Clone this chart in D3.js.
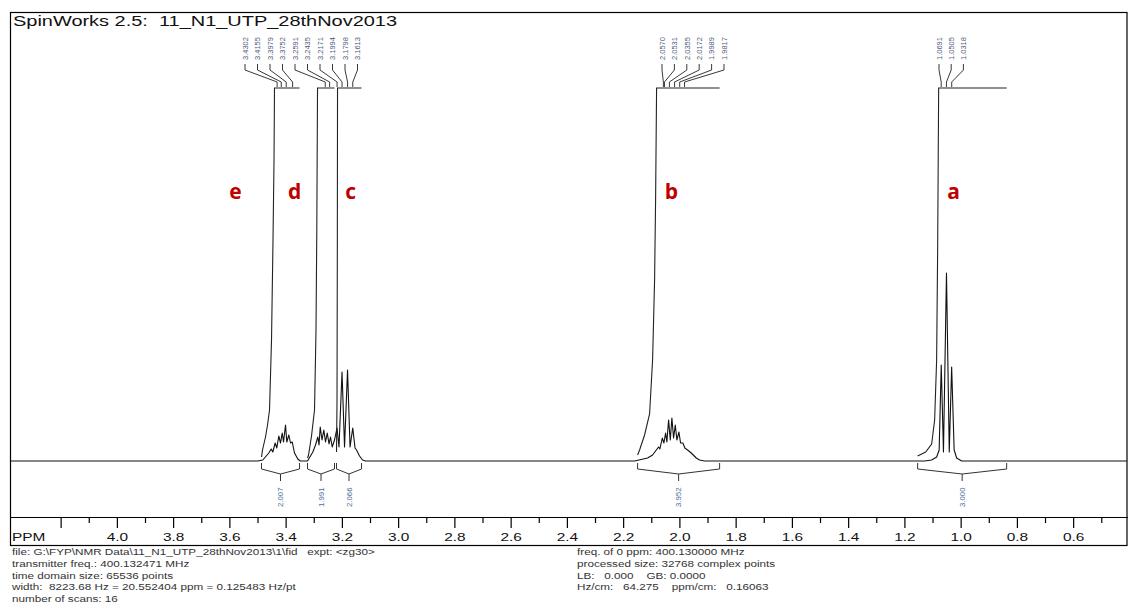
<!DOCTYPE html>
<meta charset="utf-8">
<style>
html, body { margin: 0; padding: 0; background: #fff; }
svg { display: block; font-family: Arial, "Liberation Sans", sans-serif; }
svg text { white-space: pre; }
.frame { fill: none; stroke: #000; stroke-width: 1.2; }
.spectrum { fill: none; stroke: #111; stroke-width: 1.1; stroke-linejoin: round; }
.integral { fill: none; stroke: #222; stroke-width: 1.1; }
.bracket { fill: none; stroke: #333; stroke-width: 1; }
.leader { fill: none; stroke: #222; stroke-width: 0.9; }
.peaklbl { font-size: 7.5px; fill: #4f5d7c; }
.intlbl { font-size: 7.8px; fill: #4d6a98; }
.letter { font-family: "Open Sans", sans-serif; font-weight: 700; font-size: 21px; fill: #c00000; }
.foot { font-size: 9px; fill: #333; }
</style>
<div id="container"></div>
<script src="https://cdn.jsdelivr.net/npm/d3@7"></script>
<script>

// ---- data ----
var title = "SpinWorks 2.5:  11_N1_UTP_28thNov2013";

var majorTicks = [4.2, 4.0, 3.8, 3.6, 3.4, 3.2, 3.0, 2.8, 2.6, 2.4, 2.2, 2.0, 1.8, 1.6, 1.4, 1.2, 1.0, 0.8, 0.6];
var tickLabels = ["", "4.0", "3.8", "3.6", "3.4", "3.2", "3.0", "2.8", "2.6", "2.4", "2.2", "2.0", "1.8", "1.6", "1.4", "1.2", "1.0", "0.8", "0.6"];
var minorTicks = [4.1, 3.9, 3.7, 3.5, 3.3, 3.1, 2.9, 2.7, 2.5, 2.3, 2.1, 1.9, 1.7, 1.5, 1.3, 1.1, 0.9, 0.7, 0.5];

// spectrum trace: [ppm, intensity]
var spectrum = [
  [4.38, 0], [3.50, 0],
  [3.4812, 1], [3.4598, 8], [3.4513, 12], [3.4456, 9], [3.4371, 18], [3.4314, 13], [3.4243, 25],
  [3.4182, 18], [3.4122, 28], [3.4075, 19], [3.4004, 36], [3.3958, 19], [3.3887, 26], [3.3826, 18],
  [3.3766, 19], [3.3684, 8], [3.3567, 2], [3.3482, 0],
  [3.3222, 0], [3.3033, 9], [3.2938, 16], [3.2856, 24], [3.2813, 16], [3.2770, 34], [3.2706, 21],
  [3.2642, 31], [3.2582, 19], [3.2521, 28], [3.2457, 17], [3.2404, 24], [3.2344, 14], [3.2262, 21],
  [3.2173, 33], [3.2102, 14], [3.1995, 89], [3.1906, 14], [3.1799, 91], [3.1710, 14], [3.1614, 33],
  [3.1532, 13], [3.1479, 11], [3.1372, 5], [3.1265, 1], [3.1159, 0],
  [2.1593, 0], [2.1131, 3], [2.0953, 6], [2.0821, 11], [2.0740, 14], [2.0694, 12], [2.0608, 23],
  [2.0551, 18], [2.0491, 28], [2.0445, 19], [2.0384, 41], [2.0324, 21], [2.0267, 43], [2.0207, 23],
  [2.0146, 36], [2.0089, 21], [2.0018, 29], [1.9958, 18], [1.9876, 18], [1.9805, 13], [1.9709, 11],
  [1.9578, 8], [1.9400, 3], [1.9282, 1], [1.9104, 0],
  [1.1280, 0], [1.1031, 1], [1.0854, 4], [1.0764, 11], [1.0690, 96], [1.0611, 9], [1.0504, 188],
  [1.0405, 9], [1.0320, 94], [1.0231, 11], [1.0142, 3], [0.9964, 0],
  [0.405, 0]
];

// integral regions (ppm from, to), values, and the visible rising part of each curve
var integralRanges = [[3.4858, 3.3506], [3.3222, 3.2262], [3.2191, 3.1301], [2.1486, 1.8570], [1.1529, 0.8364]];
var integralValues = ["2.007", "1.991", "2.066", "3.952", "3.000"];
var integralRise = [
  [[3.4858, 4], [3.4822, 11], [3.4716, 24], [3.4644, 36], [3.4573, 51], [3.4502, 121], [3.4449, 221], [3.4413, 301], [3.4396, 373]],
  [[3.3222, 3], [3.3186, 6], [3.3080, 25], [3.2973, 51], [3.2920, 131], [3.2892, 231], [3.2866, 373]],
  [[3.2191, 9], [3.2173, 61], [3.2162, 211], [3.2155, 373]],
  [[2.1486, 6], [2.1415, 11], [2.1238, 26], [2.1060, 47], [2.0953, 101], [2.0882, 181], [2.0846, 261], [2.0811, 373]],
  [[1.1529, 5], [1.1245, 9], [1.1031, 17], [1.0925, 41], [1.0854, 101], [1.0818, 211], [1.0782, 373]]
];

// picked peaks
var peaksCH2 = ["3.4302", "3.4155", "3.3979", "3.3752", "3.2591", "3.2435", "3.2171", "3.1994", "3.1798", "3.1613"];
var peaksB = ["2.0570", "2.0531", "2.0355", "2.0172", "1.9989", "1.9817"];
var peaksA = ["1.0691", "1.0505", "1.0318"];

var letters = ["e", "d", "c", "b", "a"];
var letterPpm = [3.578, 3.368, 3.169, 2.028, 1.025];

var footLeft = [
  "file: G:\\FYP\\NMR Data\\11_N1_UTP_28thNov2013\\1\\fid   expt: <zg30>",
  "transmitter freq.: 400.132471 MHz",
  "time domain size: 65536 points",
  "width:  8223.68 Hz = 20.552404 ppm = 0.125483 Hz/pt",
  "number of scans: 16"
];
var footRight = [
  "freq. of 0 ppm: 400.130000 MHz",
  "processed size: 32768 complex points",
  "LB:   0.000    GB: 0.0000",
  "Hz/cm:   64.275    ppm/cm:   0.16063"
];

// ---- layout ----
var width = 1128, height = 609;
var baseY = 461, topY = 88, axisY = 517, frameBottom = 545;

var svg = d3.select("#container").append("svg")
    .attr("width", width)
    .attr("height", height);

var x = d3.scaleLinear().domain([4.38, 0.405]).range([10, 1128]);
var y = d3.scaleLinear().domain([0, 373]).range([baseY, topY]);

svg.append("defs").append("clipPath").attr("id", "plotclip")
  .append("rect").attr("x", 11).attr("y", 13).attr("width", 1116).attr("height", axisY - 14);

// frame
svg.append("rect").attr("class", "frame")
    .attr("x", 10.5).attr("y", 12.5).attr("width", 1116.5).attr("height", frameBottom - 12);
svg.append("line").attr("class", "frame")
    .attr("x1", 10).attr("x2", 1128).attr("y1", axisY + 0.5).attr("y2", axisY + 0.5);

svg.append("text")
    .attr("x", 13).attr("y", 26)
    .attr("font-size", 15)
    .attr("textLength", 384).attr("lengthAdjust", "spacingAndGlyphs")
    .attr("fill", "#111")
    .text(title);

// axis
var gMajor = svg.append("g")
    .attr("transform", "translate(0," + axisY + ")")
    .call(d3.axisBottom(x).tickValues(majorTicks).tickSize(11).tickPadding(5)
      .tickFormat(function(d, i) { return tickLabels[i]; }));
gMajor.select(".domain").remove();
gMajor.attr("font-family", null).attr("font-size", 11).attr("color", "#000");
gMajor.selectAll("line").attr("stroke-width", 1.2);
gMajor.selectAll("text").attr("transform", "scale(1.4,1)").attr("fill", "#111");

var gMinor = svg.append("g")
    .attr("transform", "translate(0," + axisY + ")")
    .call(d3.axisBottom(x).tickValues(minorTicks).tickSize(6).tickFormat(""));
gMinor.select(".domain").remove();
gMinor.attr("color", "#000");
gMinor.selectAll("line").attr("stroke-width", 1.2);

svg.append("text")
    .attr("transform", "translate(12,541) scale(1.4,1)")
    .attr("font-size", 11).attr("fill", "#111")
    .text("PPM");

// spectrum
var plot = svg.append("g").attr("clip-path", "url(#plotclip)");
var line = d3.line()
    .x(function(d) { return x(d[0]); })
    .y(function(d) { return y(d[1]); });

plot.append("path").datum(spectrum).attr("class", "spectrum").attr("d", line);

// integrals
integralRise.forEach(function(pts, i) {
  var full = pts.concat([[integralRanges[i][1], 373]]);
  plot.append("path").datum(full).attr("class", "integral")
      .attr("stroke", i === 4 ? "#888" : "#222")
      .attr("d", line);
});

// integral brackets and values
integralRanges.forEach(function(r, i) {
  var xa = x(r[0]), xb = x(r[1]), xm = (xa + xb) / 2;
  svg.append("path").attr("class", "bracket")
      .attr("d", "M" + xa + "," + (baseY + 2) + "V469L" + xm + ",474V481M" + xm + ",474L" + xb + ",469V" + (baseY + 2));
  svg.append("text").attr("class", "intlbl")
      .attr("transform", "translate(" + (xm + 2.8) + ",507) rotate(-90)")
      .text(integralValues[i]);
});

// peak labels with leaders
function peakLabels(list, startX, step) {
  list.forEach(function(p, i) {
    var lx = startX + i * step, sx = x(+p);
    svg.append("text").attr("class", "peaklbl")
        .attr("transform", "translate(" + (lx + 2.7) + ",60) rotate(-90)")
        .text(p);
    svg.append("path").attr("class", "leader")
        .attr("d", "M" + lx + ",64V70L" + sx + ",82V87");
  });
}
peakLabels(peaksCH2, 245, 12.5);
peakLabels(peaksB, 662, 12.4);
peakLabels(peaksA, 939, 12.2);

// multiplet letters
letters.forEach(function(l, i) {
  svg.append("text").attr("class", "letter")
      .attr("x", x(letterPpm[i])).attr("y", 199)
      .attr("text-anchor", "middle")
      .text(l);
});

// acquisition footer
footLeft.forEach(function(t, i) {
  svg.append("text").attr("class", "foot")
      .attr("transform", "translate(12," + (555 + i * 11.8) + ") scale(1.3,1)")
      .text(t);
});
footRight.forEach(function(t, i) {
  svg.append("text").attr("class", "foot")
      .attr("transform", "translate(577," + (555 + i * 11.8) + ") scale(1.3,1)")
      .text(t);
});

</script>
